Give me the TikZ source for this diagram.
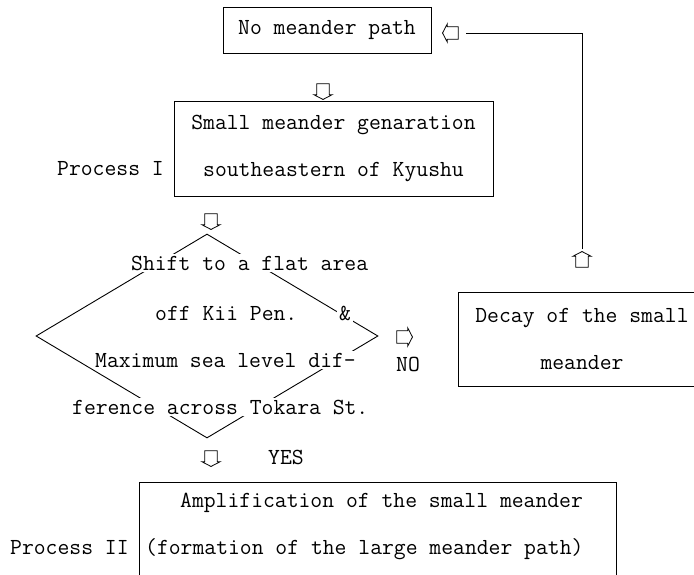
\documentclass[tikz,border=0pt]{standalone}
\usepackage{tikz}
\usetikzlibrary{shapes,arrows,positioning}
\tikzset{
  box/.style={rectangle, draw=black!100, line width=0.9pt, inner sep=0pt, align=center},
  cond/.style={diamond, draw=black!100, line width=0.9pt, inner sep=0pt},
  txt/.style={fill=white, inner sep=2pt},
  flow/.style={single arrow, draw=black!100, line width=0.8pt, fill=white, inner sep=4pt,
    shape border uses incircle, minimum height=13pt, single arrow head extend=3pt,
    single arrow tip angle=125},
  connect/.style={line width=0.9pt}
}

\begin{document}
\begin{tikzpicture}[x=1pt, y=-1pt, font=\fontsize{23}{47}\selectfont\ttfamily]
  \useasboundingbox (0,0) rectangle (694,575);
  \clip (0,0) rectangle (694,575);

  \node[box, minimum width=208pt, minimum height=46pt] (nopath) at (327,30) {No meander path};
  \node[flow, shape border rotate=180] (back) at (452,33) {};
  \node[flow, shape border rotate=270] (down1) at (323,90) {};

  \node[box, minimum width=319pt, minimum height=95pt] (small) at (333.5,148.5)
    {Small meander genaration\\southeastern of Kyushu};
  \node[anchor=mid east, inner sep=0pt] (proc1) at (164,173) {Process I};
  \node[flow, shape border rotate=270] (down2) at (211,220) {};

  % condition
  \node[cond, minimum width=342pt, minimum height=204pt] (cond) at (207,336) {};
  \node[txt, anchor=mid west] (c1) at (129,268) {Shift to a flat area};
  \node[txt, anchor=mid west] (c2) at (153,318) {off Kii Pen.};
  \node[txt, anchor=mid west] (c3) at (337,318) {\&};
  \node[txt, anchor=mid west] (c4) at (93,365) {Maximum sea level dif-};
  \node[txt, anchor=mid west] (c5) at (70,412) {ference across Tokara St.};

  \node[flow] (noarr) at (403,337) {};
  \node[inner sep=0pt] (no) at (408,364) {NO};
  \node[flow, shape border rotate=270] (down3) at (211,457) {};
  \node[inner sep=0pt] (yes) at (286,457) {YES};

  \node[box, minimum width=248pt, minimum height=94pt] (decay) at (582,339)
    {Decay of the small\\meander};
  \node[flow, shape border rotate=90] (up) at (582,261) {};

  \node[box, minimum width=477pt, minimum height=138pt] (ampl) at (377.5,551) {};
  \node[anchor=mid west, inner sep=0pt] (a1) at (180,505) {Amplification of the small meander};
  \node[anchor=mid west, inner sep=0pt] (a2) at (145,552) {(formation of the large meander path)};
  \node[anchor=mid west, inner sep=0pt] (proc2) at (10,552) {Process II};

  \draw[connect] ([yshift=2pt]up.north) |- ([xshift=7pt]back.east);

\end{tikzpicture}
\end{document}
